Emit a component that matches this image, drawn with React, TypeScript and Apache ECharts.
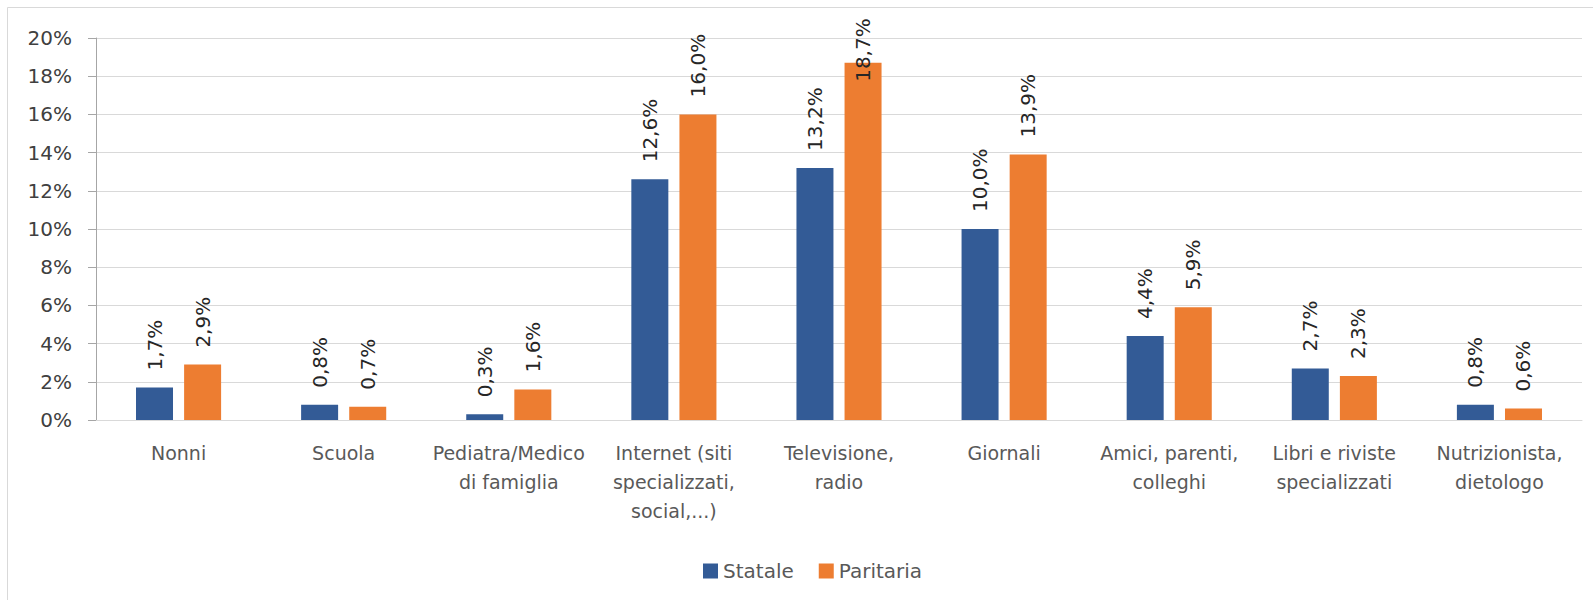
import React, { useEffect, useRef } from "react";
import * as echarts from "echarts";

const categories = [
  "Nonni",
  "Scuola",
  "Pediatra/Medico\ndi famiglia",
  "Internet (siti\nspecializzati,\nsocial,...)",
  "Televisione,\nradio",
  "Giornali",
  "Amici, parenti,\ncolleghi",
  "Libri e riviste\nspecializzati",
  "Nutrizionista,\ndietologo",
];
const statale = [1.7, 0.8, 0.3, 12.6, 13.2, 10.0, 4.4, 2.7, 0.8];
const paritaria = [2.9, 0.7, 1.6, 16.0, 18.7, 13.9, 5.9, 2.3, 0.6];
const seriesNames = ["Statale", "Paritaria"];
const yTicks = { min: 0, max: 20, interval: 2 };

const FONT = "DejaVu Sans";
const fmt = (v: number) => v.toFixed(1).replace(".", ",") + "%";

export default function App() {
  const ref = useRef<HTMLDivElement>(null);
  useEffect(() => {
    document.body.style.margin = "0";
    if (!ref.current) return;
    const chart = echarts.init(ref.current, undefined, { renderer: "svg" });
    const baseLabel = {
      show: true,
      position: "top" as const,
      rotate: 90,
      align: "left" as const,
      verticalAlign: "middle" as const,
      distance: 17,
      fontFamily: FONT,
      fontSize: 20,
      color: "#262626",
      formatter: (p: any) => fmt(p.value),
    };
    const maxVal = Math.max(...statale, ...paritaria);
    const mkData = (arr: number[]) =>
      arr.map((v) =>
        v === maxVal
          ? { value: v, label: { position: ["50%", 19], distance: 0 } }
          : v
      );
    chart.setOption({
      animation: false,
      backgroundColor: "#ffffff",
      textStyle: { fontFamily: FONT },
      graphic: [
        {
          type: "rect",
          shape: { x: 7.5, y: 7.5, width: 1600, height: 620 },
          style: { fill: "none", stroke: "#d9d9d9", lineWidth: 1 },
          silent: true,
        },
      ],
      grid: { left: 96, right: 11, top: 38, bottom: 180, containLabel: false },
      legend: {
        data: seriesNames,
        left: 698,
        top: 556,
        itemWidth: 15,
        itemHeight: 15,
        itemGap: 25,
        icon: "rect",
        textStyle: { fontFamily: FONT, fontSize: 20, color: "#595959" },
      },
      xAxis: {
        type: "category",
        data: categories,
        axisLine: { show: true, lineStyle: { color: "#d9d9d9", width: 1 } },
        axisTick: { show: false },
        axisLabel: {
          interval: 0,
          margin: 18,
          fontFamily: FONT,
          fontSize: 19,
          lineHeight: 29,
          color: "#595959",
        },
      },
      yAxis: {
        type: "value",
        min: yTicks.min,
        max: yTicks.max,
        interval: yTicks.interval,
        axisLine: { show: true, lineStyle: { color: "#a6a6a6", width: 1 } },
        axisTick: { show: true, length: 8, lineStyle: { color: "#a6a6a6" } },
        splitLine: { show: true, lineStyle: { color: "#d9d9d9", width: 1 } },
        axisLabel: {
          margin: 24,
          fontFamily: FONT,
          fontSize: 20,
          color: "#404040",
          formatter: "{value}%",
        },
      },
      series: [
        {
          name: seriesNames[0],
          type: "bar",
          data: mkData(statale),
          barWidth: 37,
          barGap: "30%",
          itemStyle: { color: "#335B96" },
          label: baseLabel,
        },
        {
          name: seriesNames[1],
          type: "bar",
          data: mkData(paritaria),
          barWidth: 37,
          barGap: "30%",
          itemStyle: { color: "#ED7D31" },
          label: baseLabel,
        },
      ],
    });
    return () => chart.dispose();
  }, []);
  return <div ref={ref} style={{ width: 1593, height: 600 }} />;
}
